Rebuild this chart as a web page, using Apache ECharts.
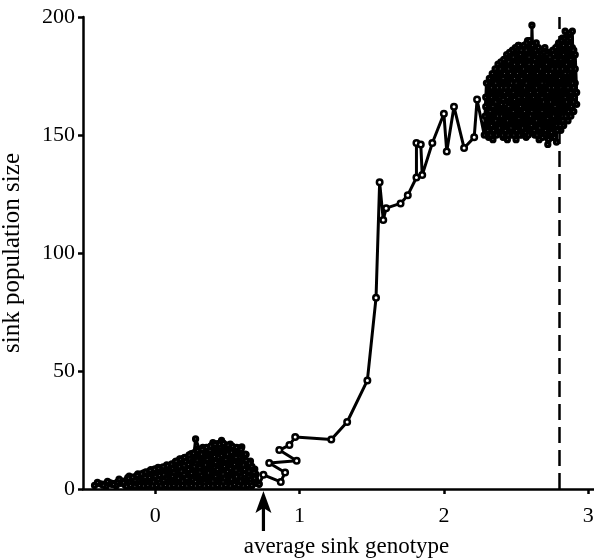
<!DOCTYPE html>
<html>
<head>
<meta charset="utf-8">
<script src="https://cdn.jsdelivr.net/npm/echarts@6/dist/echarts.min.js"></script>
<style>
  html, body { margin: 0; padding: 0; background: #fff; }
  #chart { width: 594px; height: 559px; }
</style>
</head>
<body>
<div id="chart"></div>
<script>
// genotype / population pairs, in trajectory order
const lowPhase = [
  [-0.42, 1.5], [-0.38, 2.2], [-0.34, 1.2], [-0.31, 2.6], [-0.27, 1.4], [-0.24, 3.5], [-0.21, 1.8], [-0.19, 4.8],
  [-0.16, 2.0], [-0.13, 5.6], [-0.11, 1.5], [-0.08, 6.8], [-0.06, 2.4], [-0.03, 8.2], [-0.01, 1.6], [0.01, 7.4],
  [0.03, 2.8], [0.05, 9.0], [0.07, 1.9], [0.09, 8.6], [0.11, 3.1], [0.13, 10.4], [0.15, 1.7], [0.17, 12.8],
  [0.19, 3.4], [0.21, 11.6], [0.22, 2.1], [0.24, 14.2], [0.26, 4.0], [0.27, 15.3], [0.28, 21.2], [0.31, 16.4],
  [0.30, 2.6], [0.33, 13.8], [0.35, 3.8], [0.37, 17.2], [0.38, 1.9], [0.40, 19.6], [0.42, 5.2], [0.44, 16.8],
  [0.45, 2.4], [0.46, 20.6], [0.48, 4.6], [0.50, 18.4], [0.51, 1.8], [0.53, 15.6], [0.55, 3.6], [0.57, 17.4],
  [0.58, 2.2], [0.60, 17.8], [0.62, 4.8], [0.63, 14.6], [0.64, 2.4], [0.66, 11.8], [0.68, 3.0], [0.70, 6.2],
  [0.72, 2.2],
  [0.69, 8.4], [0.65, 5.4], [0.61, 12.4], [0.58, 7.2], [0.55, 14.2], [0.52, 8.8], [0.49, 12.6], [0.47, 6.4],
  [0.44, 13.4], [0.41, 9.2], [0.39, 15.8], [0.36, 7.6], [0.34, 11.4], [0.32, 5.8], [0.29, 12.2], [0.26, 8.8],
  [0.23, 10.4], [0.20, 6.2], [0.17, 9.4], [0.14, 5.6], [0.11, 7.8], [0.08, 4.4], [0.05, 6.4], [0.02, 4.2],
  [-0.02, 5.4], [-0.05, 3.6], [-0.09, 4.4], [-0.14, 3.2], [-0.18, 3.0], [-0.24, 2.4], [-0.30, 2.0],
  [-0.26, 3.0], [-0.20, 3.8], [-0.15, 4.4], [-0.10, 5.6], [-0.05, 6.6], [0.00, 8.4], [0.04, 7.0], [0.08, 10.2],
  [0.12, 8.8], [0.16, 11.4], [0.20, 9.8], [0.24, 12.8], [0.28, 10.6], [0.32, 14.8], [0.35, 10.2], [0.38, 16.4],
  [0.42, 11.2], [0.45, 17.8], [0.48, 9.6], [0.52, 19.0], [0.55, 10.4], [0.58, 13.2], [0.62, 8.2], [0.66, 4.0],
  [0.66, 2.6], [0.62, 6.2], [0.59, 3.4], [0.56, 8.0], [0.53, 4.2], [0.50, 7.4], [0.47, 3.0], [0.43, 8.2],
  [0.40, 3.4], [0.37, 6.8], [0.34, 2.8], [0.31, 7.2], [0.28, 3.2], [0.25, 6.6], [0.22, 4.4], [0.19, 8.0],
  [0.16, 4.6], [0.13, 6.8], [0.10, 2.4], [0.06, 3.6], [0.03, 5.8], [-0.01, 3.0], [-0.04, 4.8], [-0.08, 2.2],
  [-0.12, 3.8],
  [-0.40, 2.8], [-0.36, 1.6], [-0.33, 3.2], [-0.29, 2.0], [-0.25, 4.2], [-0.22, 2.6], [-0.18, 5.4], [-0.14, 3.6],
  [-0.12, 6.4], [-0.07, 4.8], [-0.04, 7.6], [0.00, 5.2], [0.02, 9.2], [0.06, 6.0], [0.10, 9.8], [0.12, 5.4],
  [0.14, 11.6], [0.18, 7.6], [0.20, 13.2], [0.23, 8.2], [0.25, 15.0], [0.27, 9.4], [0.29, 16.8], [0.31, 9.0],
  [0.33, 17.6], [0.36, 12.6], [0.39, 18.4], [0.41, 13.8], [0.43, 19.2], [0.46, 14.2], [0.47, 19.4], [0.50, 14.8],
  [0.53, 18.2], [0.56, 13.4], [0.59, 16.4], [0.61, 10.2], [0.63, 12.0], [0.65, 7.6], [0.67, 9.6], [0.69, 4.6],
  [-0.20, 1.2], [-0.185, 4.6], [-0.17, 1.4], [-0.155, 5.0], [-0.14, 1.2], [-0.125, 5.8], [-0.11, 1.4], [-0.095, 6.4],
  [-0.08, 1.3], [-0.065, 7.2], [-0.05, 1.5], [-0.035, 7.8], [-0.02, 1.3], [-0.005, 8.4], [0.01, 1.4], [0.025, 8.8],
  [0.04, 1.3], [0.055, 9.4], [0.07, 1.5], [0.085, 9.8], [0.10, 1.3], [0.115, 10.6], [0.13, 1.4], [0.145, 11.8],
  [0.16, 1.3], [0.175, 12.6], [0.19, 1.5], [0.205, 13.4], [0.22, 1.3], [0.235, 14.4], [0.25, 1.4], [0.265, 15.2],
  [0.28, 1.3], [0.295, 16.2], [0.31, 1.5], [0.325, 16.8], [0.34, 1.3], [0.355, 17.6], [0.37, 1.4], [0.385, 18.2],
  [0.40, 1.3], [0.415, 18.8], [0.43, 1.5], [0.445, 19.0], [0.46, 1.3], [0.475, 19.2], [0.49, 1.4], [0.505, 18.6],
  [0.52, 1.3], [0.535, 18.0], [0.55, 1.5], [0.565, 17.6], [0.58, 1.4], [0.595, 16.8], [0.61, 1.3], [0.625, 14.8],
  [0.64, 1.5], [0.655, 11.0], [0.67, 1.4], [0.685, 7.0],
  [0.70, 2.4], [0.55, 2.0], [0.72, 2.0]
];
const risePhase = [
  [0.75, 6.0], [0.87, 3.0], [0.90, 7.0], [0.79, 11.0], [0.98, 12.0], [0.86, 16.5], [0.93, 18.6], [0.97, 22.0],
  [1.22, 21.0], [1.33, 28.4], [1.47, 46.0], [1.53, 81.0], [1.555, 130.0], [1.58, 114.0], [1.60, 119.0],
  [1.70, 121.0], [1.75, 124.5], [1.81, 132.0], [1.81, 146.6], [1.84, 146.0], [1.85, 133.0], [1.92, 146.6],
  [2.00, 159.0], [2.02, 143.0], [2.07, 162.0], [2.14, 144.5], [2.21, 149.0], [2.23, 165.0]
];
const highPhase = [
  [2.28, 150], [2.29, 166], [2.31, 149], [2.33, 170], [2.34, 148], [2.36, 172], [2.37, 151], [2.39, 178],
  [2.41, 149], [2.42, 176], [2.44, 148], [2.45, 181], [2.47, 150], [2.48, 183], [2.50, 148], [2.51, 186],
  [2.52, 188], [2.54, 151], [2.55, 184], [2.57, 149], [2.58, 190], [2.60, 152], [2.61, 196.5], [2.63, 150],
  [2.64, 189], [2.66, 148], [2.67, 186], [2.69, 151], [2.70, 187], [2.72, 146], [2.73, 185], [2.75, 149],
  [2.76, 184], [2.78, 147], [2.79, 188], [2.81, 152], [2.82, 191], [2.83, 154], [2.84, 194], [2.86, 156],
  [2.87, 193], [2.88, 158], [2.89, 194], [2.90, 160], [2.91, 178], [2.92, 163],
  [2.90, 170], [2.88, 168], [2.86, 176], [2.84, 166], [2.82, 178], [2.80, 160], [2.78, 174], [2.76, 158],
  [2.74, 176], [2.72, 157], [2.70, 172], [2.68, 160], [2.66, 178], [2.64, 156], [2.62, 180], [2.60, 158],
  [2.58, 176], [2.56, 160], [2.54, 174], [2.52, 157], [2.50, 172], [2.48, 160], [2.46, 170], [2.44, 156],
  [2.42, 168], [2.40, 158], [2.38, 166], [2.36, 156], [2.34, 162], [2.32, 155], [2.30, 158],
  [2.33, 160], [2.37, 164], [2.40, 170], [2.43, 163], [2.46, 176], [2.49, 165], [2.53, 180], [2.56, 166],
  [2.59, 183], [2.62, 166], [2.65, 176], [2.68, 166], [2.71, 180], [2.74, 164], [2.77, 182], [2.80, 168],
  [2.83, 184], [2.86, 170], [2.89, 187], [2.91, 172],
  [2.90, 186], [2.88, 182], [2.87, 188], [2.85, 180], [2.83, 188], [2.81, 182], [2.79, 178], [2.77, 186],
  [2.75, 178], [2.73, 182], [2.71, 176], [2.69, 184], [2.67, 178], [2.65, 184], [2.63, 182], [2.61, 188],
  [2.59, 180], [2.57, 186], [2.55, 178], [2.53, 184], [2.51, 176], [2.49, 180], [2.47, 172], [2.45, 178],
  [2.43, 170], [2.41, 174], [2.39, 166], [2.37, 170], [2.35, 164], [2.33, 166], [2.31, 160], [2.29, 162],
  [2.30, 152], [2.32, 160], [2.34, 153], [2.36, 164], [2.38, 152], [2.40, 163], [2.42, 151], [2.44, 166],
  [2.46, 152], [2.48, 168], [2.50, 153], [2.52, 166], [2.54, 150], [2.56, 170], [2.58, 152], [2.60, 168],
  [2.62, 151], [2.64, 170], [2.66, 152], [2.68, 172], [2.70, 150], [2.72, 168], [2.74, 152], [2.76, 170],
  [2.78, 154], [2.80, 174], [2.82, 158], [2.84, 176], [2.86, 160], [2.88, 178], [2.90, 164], [2.91, 184],
  [2.92, 168],
  [2.89, 172], [2.85, 164], [2.81, 170], [2.77, 162], [2.73, 170], [2.69, 164], [2.65, 168], [2.61, 160],
  [2.57, 172], [2.53, 162], [2.49, 174], [2.45, 162], [2.41, 165], [2.37, 158], [2.33, 154],
  [2.285, 158], [2.295, 172], [2.305, 152], [2.315, 174], [2.325, 150], [2.335, 176], [2.345, 152], [2.355, 178],
  [2.365, 150], [2.375, 180], [2.385, 153], [2.395, 181], [2.405, 150], [2.415, 182], [2.425, 152], [2.435, 184],
  [2.445, 150], [2.455, 185], [2.465, 153], [2.475, 186], [2.485, 150], [2.495, 187], [2.505, 152], [2.515, 188],
  [2.525, 150], [2.535, 186], [2.545, 153], [2.555, 188], [2.565, 151], [2.575, 189], [2.585, 150], [2.595, 190],
  [2.605, 154], [2.615, 188], [2.625, 152], [2.635, 186], [2.645, 150], [2.655, 187], [2.665, 153], [2.675, 184],
  [2.685, 149], [2.695, 185], [2.705, 152], [2.715, 184], [2.725, 148], [2.735, 183], [2.745, 151], [2.755, 186],
  [2.765, 149], [2.775, 187], [2.785, 152], [2.795, 189], [2.805, 154], [2.815, 190], [2.825, 156], [2.835, 191],
  [2.845, 158], [2.855, 190], [2.865, 160], [2.875, 191], [2.885, 162], [2.895, 186], [2.905, 166]
];
const xTicks = [0, 1, 2, 3];
const yTicks = [0, 50, 100, 150, 200];
const dashedX = 2.8;   // dashed reference line
const arrowX = 0.75;   // arrow under the axis

const font = 'Liberation Serif';
const chart = echarts.init(document.getElementById('chart'));

// dense clusters get tighter rings so the blobs read as solid black
const dot = (size, border) => ({
  type: 'scatter',
  symbol: 'circle',
  symbolSize: size,
  z: 3,
  silent: true,
  itemStyle: { color: '#fff', borderColor: '#000', borderWidth: border, opacity: 1 },
  emphasis: { disabled: true }
});

chart.setOption({
  animation: false,
  grid: { left: 83, right: 0, top: 17, bottom: 70, outerBoundsMode: 'none' },
  xAxis: {
    type: 'value',
    min: -0.5,
    max: 3.04,
    name: 'average sink genotype',
    nameLocation: 'middle',
    nameGap: 46,
    nameTextStyle: { fontFamily: font, fontSize: 23, color: '#000', padding: [0, 0, 0, 16] },
    splitLine: { show: false },
    axisLine: { lineStyle: { color: '#000', width: 2.5 } },
    axisTick: { customValues: xTicks, length: 5, lineStyle: { color: '#000', width: 2.5 } },
    axisLabel: { customValues: xTicks, margin: 16, fontFamily: font, fontSize: 22, color: '#000' }
  },
  yAxis: {
    type: 'value',
    min: 0,
    max: 200,
    name: 'sink population size',
    nameLocation: 'middle',
    nameGap: 58,
    nameTextStyle: { fontFamily: font, fontSize: 25, color: '#000' },
    splitLine: { show: false },
    axisLine: { onZero: false, lineStyle: { color: '#000', width: 2.5 } },
    axisTick: { customValues: yTicks, length: 5, lineStyle: { color: '#000', width: 2.5 } },
    axisLabel: { customValues: yTicks, margin: 8, padding: [10, 0, 0, 0], fontFamily: font, fontSize: 22, color: '#000' }
  },
  series: [
    {
      type: 'line',
      data: lowPhase.concat(risePhase, highPhase),
      symbol: 'none',
      z: 2,
      silent: true,
      lineStyle: { color: '#000', width: 3 },
      emphasis: { disabled: true },
      markLine: {
        silent: true,
        symbol: 'none',
        label: { show: false },
        lineStyle: { color: '#000', width: 2.5, type: [16, 7] },
        data: [{ xAxis: dashedX }]
      }
    },
    Object.assign(dot(4, 3.3), { data: lowPhase.concat(highPhase) }),
    Object.assign(dot(5.5, 2.5), { data: risePhase })
  ]
});

// arrow below the x axis, placed from the axis scale
const ax = chart.convertToPixel({ xAxisIndex: 0 }, arrowX);
const ay = chart.convertToPixel({ yAxisIndex: 0 }, 0) + 2;
chart.setOption({
  graphic: [{
    type: 'polygon',
    x: ax,
    y: ay,
    shape: { points: [[0, 0], [8, 22], [1.6, 18], [1.6, 40], [-1.6, 40], [-1.6, 18], [-8, 22]] },
    style: { fill: '#000' }
  }]
});
</script>
</body>
</html>
